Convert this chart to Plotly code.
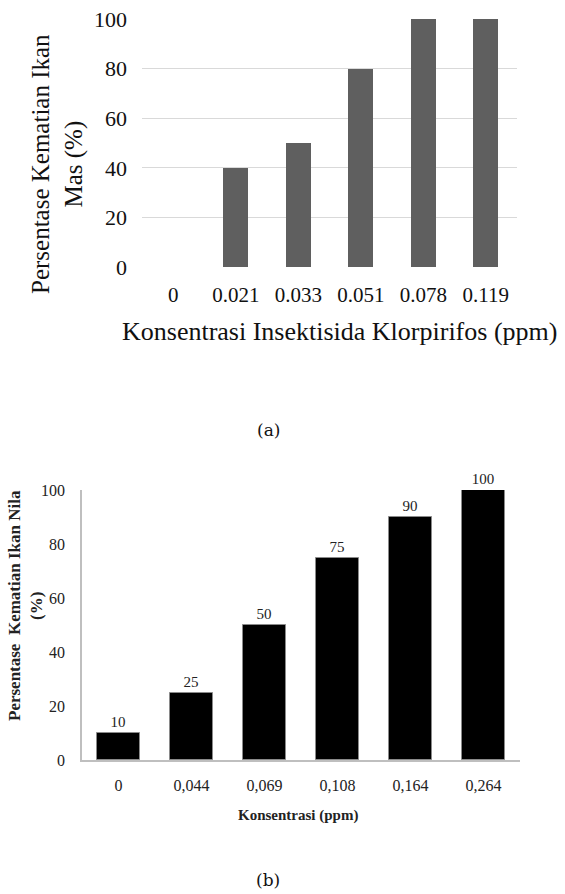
import plotly.graph_objects as go

# (a) Ikan Mas – chlorpyrifos concentrations and mortality
mas_conc = ["0", "0.021", "0.033", "0.051", "0.078", "0.119"]
mas_mort = [0, 40, 50, 80, 100, 100]

# (b) Ikan Nila – concentrations and mortality
nila_conc = ["0", "0,044", "0,069", "0,108", "0,164", "0,264"]
nila_mort = [10, 25, 50, 75, 90, 100]

W, H = 565, 894
SERIF = "Liberation Serif"


def px_x(p):
    return p / W


def px_y(p):
    return 1 - p / H


fig = go.Figure()

fig.add_trace(go.Bar(
    x=mas_conc, y=mas_mort, xaxis="x", yaxis="y",
    marker=dict(color="#5f5f5f", line=dict(width=0)),
    width=0.4, showlegend=False,
))

fig.add_trace(go.Bar(
    x=nila_conc, y=nila_mort, xaxis="x2", yaxis="y2",
    marker=dict(color="#000000", line=dict(color="#8a8a8a", width=1)),
    width=0.58, showlegend=False,
    text=[str(v) for v in nila_mort], textposition="outside",
    textfont=dict(family=SERIF, size=15, color="#222222"),
    cliponaxis=False,
))

fig.update_layout(
    template="none",
    width=W, height=H,
    margin=dict(l=0, r=0, t=0, b=0, pad=0),
    paper_bgcolor="white", plot_bgcolor="white",
    bargap=0,
    xaxis=dict(
        type="category",
        domain=[px_x(142), px_x(517)], anchor="y", automargin=False,
        showgrid=False, showline=False, zeroline=False, ticks="",
        tickfont=dict(family=SERIF, size=21, color="#111111"),
        ticklabelstandoff=12,
    ),
    yaxis=dict(
        domain=[px_y(268), px_y(18)], anchor="x", automargin=False,
        range=[-0.4, 100.4], tickvals=[0, 20, 40, 60, 80, 100],
        showgrid=True, gridcolor="#d9d9d9", gridwidth=1,
        showline=False, zeroline=False, ticks="",
        tickfont=dict(family=SERIF, size=22, color="#111111"),
        ticklabelstandoff=14,
    ),
    xaxis2=dict(
        type="category",
        domain=[px_x(82), px_x(520)], anchor="y2", automargin=False,
        showgrid=False, zeroline=False, ticks="",
        showline=True, linecolor="#bfbfbf", linewidth=1.5,
        tickfont=dict(family=SERIF, size=16, color="#222222"),
        ticklabelstandoff=10,
    ),
    yaxis2=dict(
        domain=[px_y(760), px_y(490)], anchor="x2", automargin=False,
        range=[0, 100], tickvals=[0, 20, 40, 60, 80, 100],
        showgrid=False, zeroline=False, ticks="",
        showline=True, linecolor="#bfbfbf", linewidth=1.5,
        tickfont=dict(family=SERIF, size=16, color="#222222"),
        ticklabelstandoff=12,
    ),
    annotations=[
        dict(text="Konsentrasi Insektisida Klorpirifos (ppm)",
             x=px_x(339), y=px_y(331), xref="paper", yref="paper",
             showarrow=False, xanchor="center", yanchor="middle",
             font=dict(family=SERIF, size=26, color="#111111")),
        dict(text="Persentase Kematian Ikan<br>Mas (%)",
             x=px_x(57), y=px_y(164), xref="paper", yref="paper",
             showarrow=False, xanchor="center", yanchor="middle",
             textangle=-90,
             font=dict(family=SERIF, size=25, color="#111111")),
        dict(text="(a)", x=px_x(268), y=px_y(430), xref="paper", yref="paper",
             showarrow=False, xanchor="center", yanchor="middle",
             font=dict(family="DejaVu Serif", size=17, color="#111111")),
        dict(text="<b>Konsentrasi (ppm)</b>",
             x=px_x(298), y=px_y(815), xref="paper", yref="paper",
             showarrow=False, xanchor="center", yanchor="middle",
             font=dict(family=SERIF, size=15, color="#222222")),
        dict(text="<b>Persentase  Kematian Ikan Nila<br>(%)</b>",
             x=px_x(25), y=px_y(606), xref="paper", yref="paper",
             showarrow=False, xanchor="center", yanchor="middle",
             textangle=-90,
             font=dict(family=SERIF, size=17, color="#222222")),
        dict(text="(b)", x=px_x(268), y=px_y(880), xref="paper", yref="paper",
             showarrow=False, xanchor="center", yanchor="middle",
             font=dict(family="DejaVu Serif", size=17, color="#111111")),
    ],
)

fig.write_html("out.html")
